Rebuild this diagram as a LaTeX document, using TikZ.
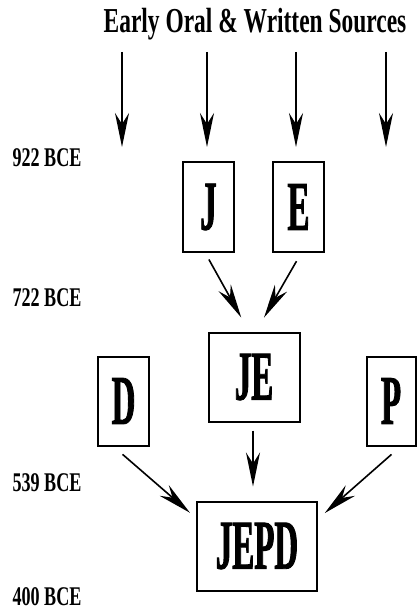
\documentclass[tikz,border=0pt]{standalone}
\usepackage{fontspec}
\setmainfont{Liberation Serif}
\newfontfamily\titlefont{Liberation Serif}[FakeStretch=0.67]
\newfontfamily\boxfont{Liberation Serif}[FakeStretch=0.47,BoldFeatures={FakeBold=1.2}]
\usetikzlibrary{arrows.meta,positioning}

\tikzset{
	letterbox/.style={draw, line width=2pt, inner sep=0pt, minimum height=89pt,
		font=\boxfont\bfseries\fontsize{70}{70}\selectfont},
	datelabel/.style={anchor=base, inner sep=0pt,
		font=\titlefont\bfseries\fontsize{27}{27}\selectfont},
	flow/.style={->, line width=1.6pt}
}

\begin{document}
\begin{tikzpicture}[x=1pt,y=-1pt,>={Stealth[length=34pt,width=14pt,inset=11pt]}]
	\useasboundingbox (0,0) rectangle (417,612);

	\node[anchor=base, inner sep=0pt, font=\titlefont\bfseries\fontsize{35}{35}\selectfont] (title) at (255,33) {Early Oral \& Written Sources};

	% dates
	\node[datelabel] (d922) at (47,167) {922 BCE};
	\node[datelabel] (d722) at (47,306) {722 BCE};
	\node[datelabel] (d539) at (47,491) {539 BCE};
	\node[datelabel] (d400) at (47,605) {400 BCE};

	% documents
	\node[letterbox, minimum width=51pt] (J) at (208.5,207) {J};
	\node[letterbox, minimum width=51pt] (E) [right=37pt of J] {E};
	\node[letterbox, minimum width=91pt] (JE) at (254,377) {JE};
	\node[letterbox, minimum width=51pt] (D) at (123.5,401) {D};
	\node[letterbox, minimum width=49pt] (P) at (391,401) {P};
	\node[letterbox, minimum width=120pt] (JEPD) at (257,546) {JEPD};

	% sources
	\foreach \x [count=\i] in {122,207,296,386} {
		\coordinate (src\i) at (\x,52);
		\coordinate (dst\i) at (\x,147);
		\draw[flow] (src\i) -- (dst\i);
	}

	\draw[flow, shorten <=8pt, shorten >=16pt] ([xshift=-3.5pt]J.south) -- ([xshift=-5pt]JE.north);
	\draw[flow, shorten <=10pt, shorten >=16pt] ([xshift=3pt]E.south) -- ([xshift=2pt]JE.north);
	\draw[flow, shorten <=8pt, shorten >=14pt] ([xshift=-1pt]JE.south) -- ([xshift=-1pt]JE.south |- JEPD.north);
	\draw[flow, shorten <=12pt, shorten >=8pt] ([xshift=-10pt]D.south) -- ([yshift=28pt]JEPD.west);
	\draw[flow, shorten <=12pt, shorten >=9pt] ([xshift=9.5pt]P.south) -- ([yshift=27pt]JEPD.east);
\end{tikzpicture}
\end{document}
